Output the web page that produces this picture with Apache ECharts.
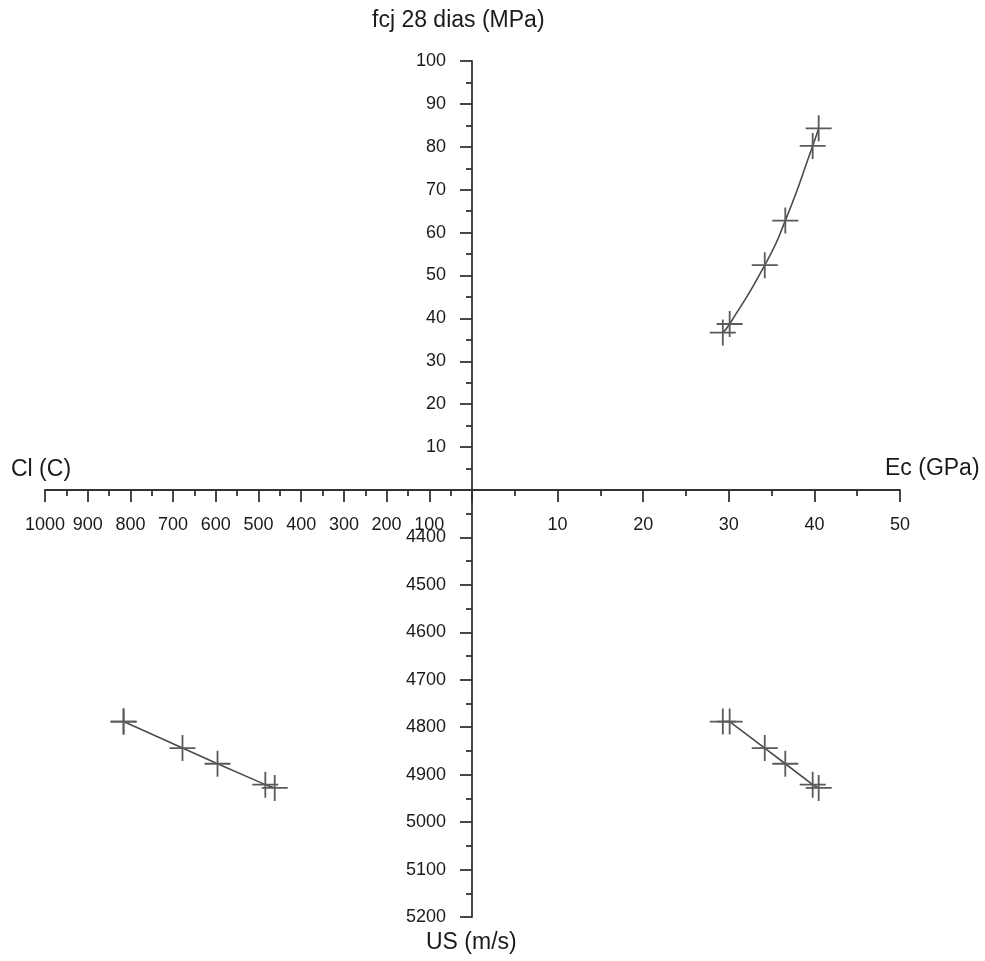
<!DOCTYPE html>
<html>
<head>
<meta charset="utf-8">
<script src="https://cdn.jsdelivr.net/npm/echarts@6/dist/echarts.min.js"></script>
<style>html,body{margin:0;padding:0;background:#fff}#c{width:985px;height:961px}</style>
</head>
<body>
<div id="c"></div>
<script>
// Data (one entry per sample)
const ecGPa   = [29.3, 30.1, 34.2, 36.6, 39.8, 40.5];
const fcjMPa  = [36.7, 38.7, 52.4, 62.8, 80.2, 84.3];
const usMs    = [4788, 4788, 4844, 4877, 4921, 4928];
const clC     = [816, 816, 678, 596, 484, 462];

const axisNames = { fcj: 'fcj 28 dias (MPa)', cl: 'Cl (C)', ec: 'Ec (GPa)', us: 'US (m/s)' };

const FONT = "'Liberation Sans', Arial, Helvetica, sans-serif";
const AX = '#333';
const cross = 'path://M12.1,0 h1.8 v26 h-1.8 z M0,12.1 h26 v1.8 h-26 z';

function visAxis(extra) {
  return Object.assign({
    type: 'value',
    axisLine: { show: true, onZero: false, lineStyle: { color: AX, width: 1.8 } },
    axisTick: { show: true, length: 12, lineStyle: { color: AX, width: 1.8 } },
    minorTick: { show: true, splitNumber: 2, length: 6, lineStyle: { color: AX, width: 1.8 } },
    splitLine: { show: false },
    minorSplitLine: { show: false },
    axisLabel: { showMinLabel: false, color: '#1a1a1a', fontSize: 18, fontFamily: FONT, margin: 26,
                 formatter: v => String(v) }
  }, extra);
}
function hidAxis(extra) {
  return Object.assign({ type: 'value', show: false, splitLine: { show: false } }, extra);
}

const chart = echarts.init(document.getElementById('c'), null, { renderer: 'canvas' });
const symbolStyle = { color: '#5a5a5a' };
const lineStyle = { color: '#4a4a4a', width: 1.6 };

chart.setOption({
  animation: false,
  backgroundColor: '#fff',
  grid: [
    { left: 472, top: 61, width: 428, height: 429 },   // Q1
    { left: 472, top: 490, width: 428, height: 427 },  // Q4
    { left: 45, top: 490, width: 427, height: 427 },   // Q3
    { left: 45, top: 61, width: 427, height: 429 }     // Q2
  ],
  xAxis: [
    visAxis({ gridIndex: 0, min: 0, max: 50, interval: 10, position: 'bottom' }),
    hidAxis({ gridIndex: 1, min: 0, max: 50 }),
    hidAxis({ gridIndex: 2, min: 0, max: 1000, inverse: true }),
    visAxis({ gridIndex: 3, min: 0, max: 1000, interval: 100, inverse: true, position: 'bottom' })
  ],
  yAxis: [
    visAxis({ gridIndex: 0, min: 0, max: 100, interval: 10, position: 'left' }),
    visAxis({ gridIndex: 1, min: 4300, max: 5200, interval: 100, inverse: true, position: 'left' }),
    hidAxis({ gridIndex: 2, min: 4300, max: 5200, inverse: true }),
    hidAxis({ gridIndex: 3, min: 0, max: 100 })
  ],
  series: [
    {
      type: 'line', xAxisIndex: 0, yAxisIndex: 0, smooth: 0.6,
      data: ecGPa.map((v, i) => [v, fcjMPa[i]]),
      symbol: cross, symbolSize: 26, showAllSymbol: true,
      itemStyle: symbolStyle, lineStyle: lineStyle
    },
    {
      type: 'line', xAxisIndex: 1, yAxisIndex: 1,
      data: ecGPa.map((v, i) => [v, usMs[i]]),
      symbol: cross, symbolSize: 26, showAllSymbol: true,
      itemStyle: symbolStyle, lineStyle: lineStyle
    },
    {
      type: 'line', xAxisIndex: 2, yAxisIndex: 2,
      data: clC.map((v, i) => [v, usMs[i]]),
      symbol: cross, symbolSize: 26, showAllSymbol: true,
      itemStyle: symbolStyle, lineStyle: lineStyle
    }
  ],
  graphic: [
    { type: 'text', left: 372, top: 9, style: { text: axisNames.fcj, fontSize: 23, fontFamily: FONT, fill: '#1a1a1a' } },
    { type: 'text', left: 11, top: 458, style: { text: axisNames.cl, fontSize: 23, fontFamily: FONT, fill: '#1a1a1a' } },
    { type: 'text', left: 885, top: 457, style: { text: axisNames.ec, fontSize: 23, fontFamily: FONT, fill: '#1a1a1a' } },
    { type: 'text', left: 426, top: 931, style: { text: axisNames.us, fontSize: 23, fontFamily: FONT, fill: '#1a1a1a' } }
  ]
});
</script>
</body>
</html>
